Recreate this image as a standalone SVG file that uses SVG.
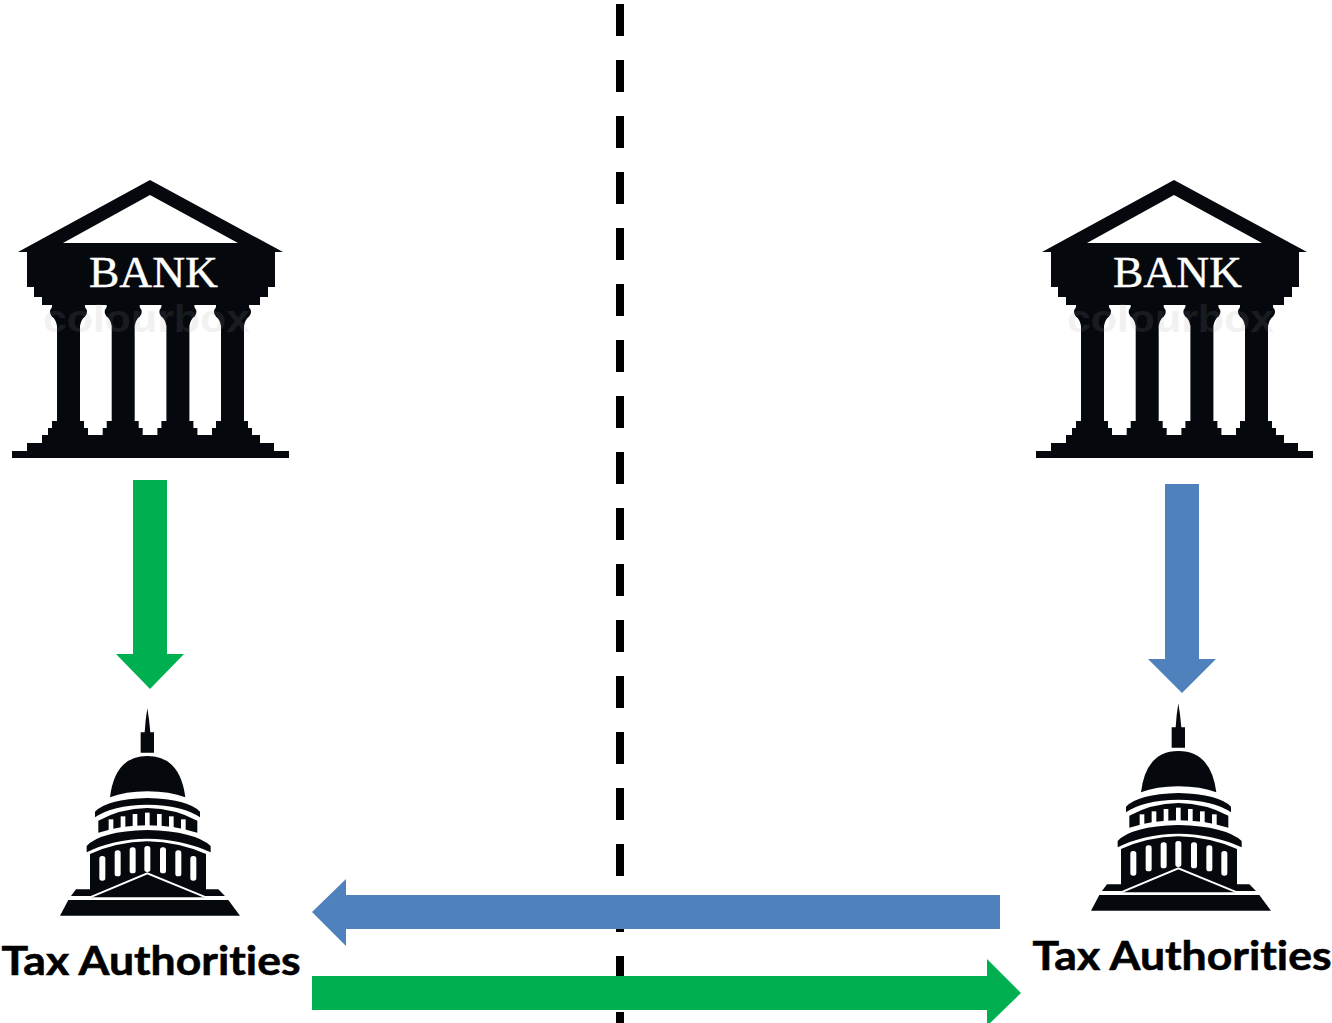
<svg xmlns="http://www.w3.org/2000/svg" width="1332" height="1023" viewBox="0 0 1332 1023">
<style>
.k{fill:#05080d}.w{fill:#fff}
.lbl{font-family:Lato,"Open Sans",sans-serif;font-weight:700;font-size:41px;fill:#000;stroke:#000;stroke-width:.6;font-variant-ligatures:none}
.bank{font-family:"Liberation Serif",serif;font-size:44px;fill:#fff;stroke:#fff;stroke-width:.4}
.wm{font-family:"Liberation Sans",sans-serif;font-weight:700;font-size:38px;fill:#9a9a9a;opacity:.13}
.blue{fill:#4f81bd}.green{fill:#00b050}
</style>
<defs>
<g id="bankIcon">
<path class="k" d="M150,180L283,252H275V287H268V297H260V305H42V297H34V287H27V252H18Z"/>
<path class="w" d="M150,195L238,243H63Z"/>
<g id="col">
<circle class="k" cx="56.500" cy="312" r="6.500"/><circle class="k" cx="80.500" cy="312" r="6.500"/>
<path class="k" d="M52,304H85V316Q81,320 80,326V421H84V428H88V436H48V428H52V421H57V326Q56,320 52,316Z"/>
</g>
<use href="#col" x="54.700"/><use href="#col" x="109.400"/><use href="#col" x="164"/>
<path class="k" d="M42,435H260V443H274V451H289V458H12V451H27V443H42Z"/>
<text class="wm" x="43" y="332" textLength="207" lengthAdjust="spacingAndGlyphs">colourbox</text>
<text class="bank" x="89" y="287" textLength="129" lengthAdjust="spacingAndGlyphs">BANK</text>
</g>
<g id="capitolIcon" transform="translate(40 700) scale(.33333)">
<path class="k" d="M322,25Q316,60 314,97H302V158H342V97H331Q328,60 322,25Z"/>
<path class="k" d="M210,292Q225,168 322,168Q420,168 436,292Q390,274 322,274Q255,274 210,292Z"/>
<path class="k" d="M165,335Q200,298 322,294Q445,298 480,335V352Q430,316 322,314Q215,316 165,352Z"/>
<path class="k" d="M175,362Q240,326 322,324Q405,326 472,362V398Q400,376 322,376Q245,376 175,398Z"/>
<g class="w">
<rect x="206" y="358" width="14" height="36"/><rect x="242" y="349" width="14" height="36"/><rect x="278" y="342" width="14" height="36"/><rect x="315" y="338" width="14" height="40"/><rect x="351" y="342" width="14" height="36"/><rect x="387" y="349" width="14" height="36"/><rect x="423" y="358" width="14" height="36"/>
</g>
<path class="k" d="M140,438Q180,394 322,390Q465,394 512,438V457Q430,418 322,416Q215,418 140,457Z"/>
<path class="k" d="M150,462Q230,426 322,424Q415,426 498,462V570H150Z"/>
<g class="w">
<rect x="178" y="468" width="18" height="74" rx="8"/><rect x="224" y="451" width="18" height="78" rx="8"/><rect x="269" y="442" width="18" height="78" rx="8"/><rect x="313" y="438" width="18" height="78" rx="8"/><rect x="360" y="442" width="18" height="78" rx="8"/><rect x="406" y="451" width="18" height="78" rx="8"/><rect x="451" y="468" width="18" height="74" rx="8"/>
</g>
<path class="k" d="M108,568H200V588H93ZM448,568H535L555,588H448Z"/>
<path d="M150,592L322,520L498,592" fill="#05080d" stroke="#fff" stroke-width="6"/>
<path class="k" d="M185,588L322,530L460,588Z"/>
<path class="k" d="M85,600H565L600,647H60Z"/>
</g>
</defs>
<g id="divider"><path d="M620,4V1023" fill="none" stroke="#000" stroke-width="8" stroke-dasharray="32 24"/></g>
<g id="bank-left"><use href="#bankIcon"/></g>
<g id="bank-right"><use href="#bankIcon" x="1024"/></g>
<g id="tax-left"><use href="#capitolIcon"/><text class="lbl" x="1.500" y="975" textLength="299" lengthAdjust="spacingAndGlyphs">Tax Authorities</text></g>
<g id="tax-right"><use href="#capitolIcon" x="1031" y="-5"/><text class="lbl" x="1032.500" y="970" textLength="299" lengthAdjust="spacingAndGlyphs">Tax Authorities</text></g>
<g id="connectors">
<path class="green" d="M133,480H167V654H184L150,689L116,654H133Z"/>
<path class="blue" d="M1165,484H1199V659H1216L1182,693L1148,659H1165Z"/>
<path class="blue" d="M1000,895V929H346V946L312,912L346,879V895Z"/>
<path class="green" d="M312,976H987V959L1021,993L987,1026V1010H312Z"/>
</g>
</svg>
